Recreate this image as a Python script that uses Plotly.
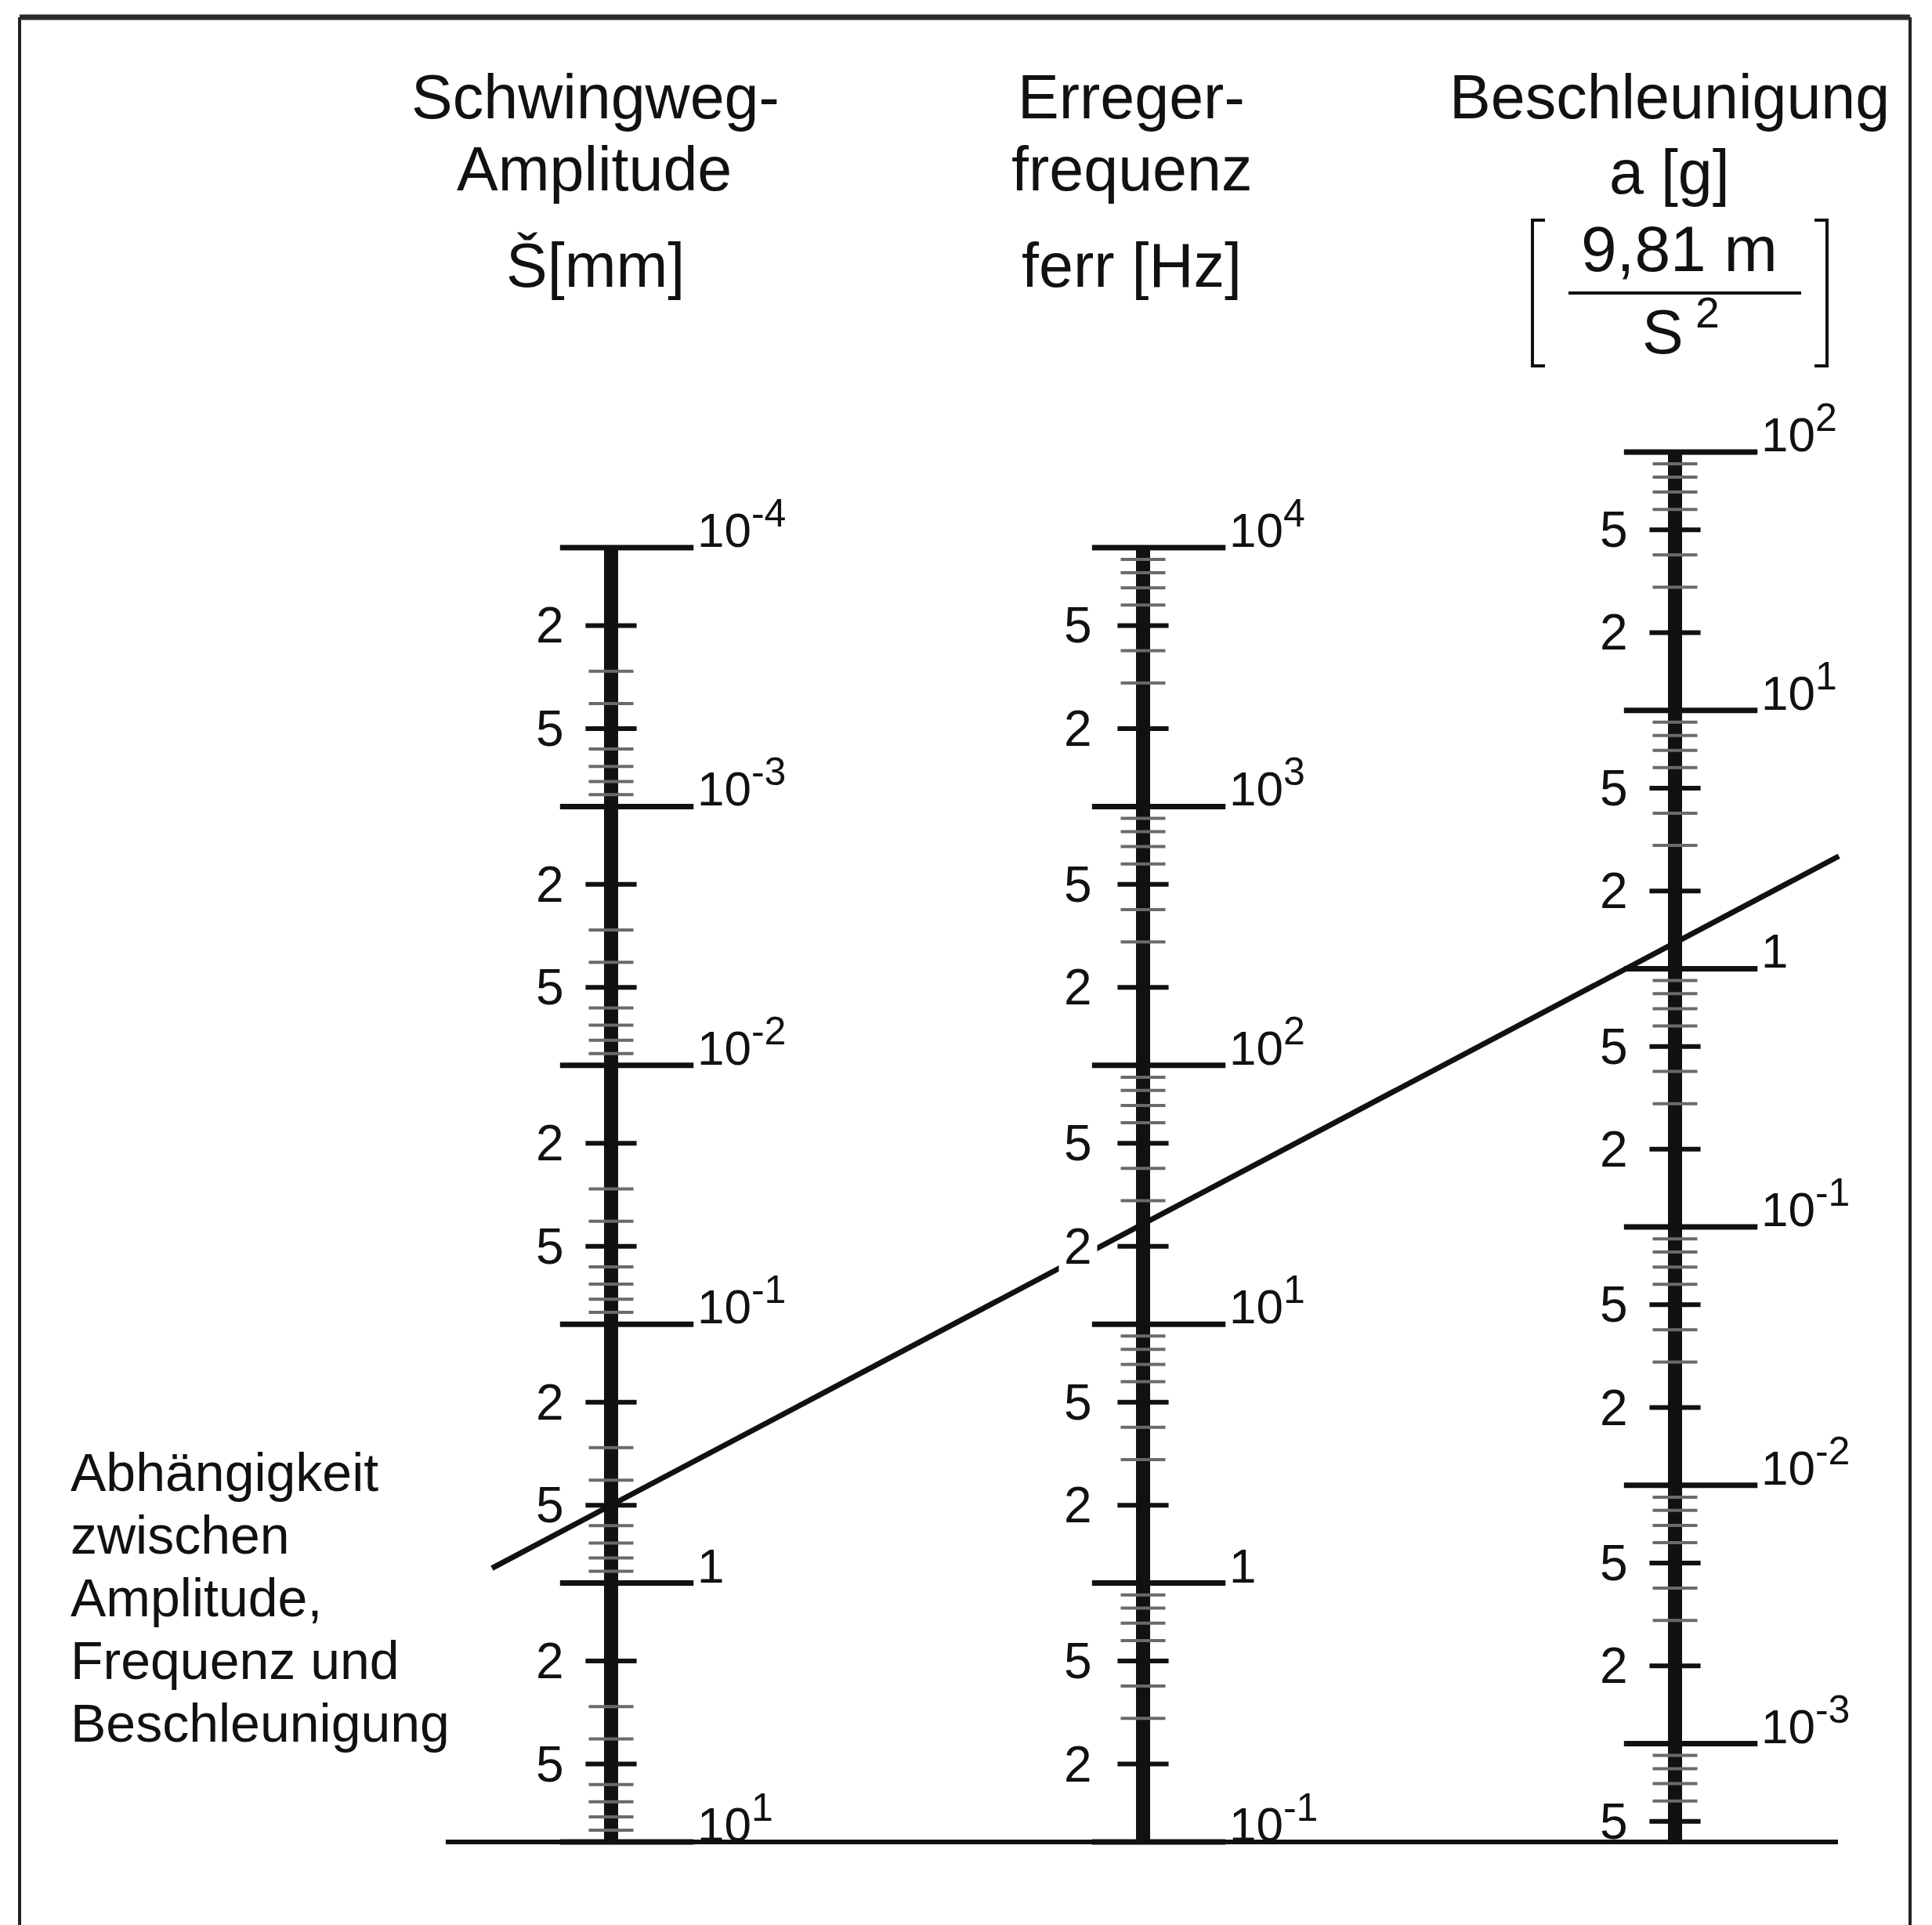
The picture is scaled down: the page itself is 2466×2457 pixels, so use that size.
import math
import plotly.graph_objects as go

W, H = 2466, 2457
FONT = "Liberation Sans, Arial, Helvetica, sans-serif"
INK = "#111111"


def power(exp):
    return f"10<sup><span style='font-size:50px'>{exp}</span></sup>"


# ---- scale data -------------------------------------------------------
# Schwingweg-Amplitude Š [mm]  (grows downwards)
amp_decades = [1e-4, 1e-3, 1e-2, 1e-1, 1, 10]
amp_labels = [power("-4"), power("-3"), power("-2"), power("-1"), "1", power("1")]
# Erregerfrequenz ferr [Hz]
freq_decades = [1e4, 1e3, 1e2, 1e1, 1, 1e-1]
freq_labels = [power("4"), power("3"), power("2"), power("1"), "1", power("-1")]
# Beschleunigung a [g]
acc_decades = [1e2, 1e1, 1, 1e-1, 1e-2, 1e-3]
acc_labels = [power("2"), power("1"), "1", power("-1"), power("-2"), power("-3")]

labelled_steps = [2, 5]
minor_steps = [3, 4, 6, 7, 8, 9]

# worked example drawn across the nomogram
example_amp = 0.5    # mm
example_acc = 1.26   # g

# ---- axis geometry (log10 at bottom edge, log10 at top edge) ---------
AMP_RANGE = [1.3208, -6.1156]
FREQ_RANGE = [-1.3208, 6.1156]
ACC_RANGE = [-3.7021, 3.7501]
X_RANGE = [-1.14875, 2.48306]   # scale columns sit at x = 0, 1, 2


def map_value(v, src, dst):
    """Value on axis dst that sits at the same height as v on axis src."""
    frac = (math.log10(v) - src[0]) / (src[1] - src[0])
    return 10 ** (dst[0] + frac * (dst[1] - dst[0]))


baseline_amp = amp_decades[-1]
acc_bottom = map_value(baseline_amp, AMP_RANGE, ACC_RANGE)

scales = [
    dict(col=0, ax="y", rng=AMP_RANGE, dec=amp_decades, lab=amp_labels,
         lo=min(amp_decades), hi=max(amp_decades), bg=None),
    dict(col=1, ax="y2", rng=FREQ_RANGE, dec=freq_decades, lab=freq_labels,
         lo=min(freq_decades), hi=max(freq_decades), bg="white"),
    dict(col=2, ax="y3", rng=ACC_RANGE, dec=acc_decades, lab=acc_labels,
         lo=acc_bottom, hi=max(acc_decades), bg=None),
]

fig = go.Figure()
annotations = []


def segs(col, vals, left, right):
    xs, ys = [], []
    for v in vals:
        xs += [col + left, col + right, None]
        ys += [v, v, None]
    return xs, ys


for s in scales:
    col, ax = s["col"], s["ax"]
    lo, hi = s["lo"], s["hi"]
    yref = ax
    # spine
    fig.add_trace(go.Scatter(x=[col, col], y=[lo, hi], yaxis=ax, mode="lines",
                             line=dict(color=INK, width=18), hoverinfo="skip"))
    # subdivisions of every decade
    lab_vals, minor_vals = [], []
    for k in range(math.floor(math.log10(lo)) - 1, math.ceil(math.log10(hi)) + 1):
        base = 10.0 ** k
        for m in labelled_steps:
            v = base * m
            if lo * 1.0001 < v < hi / 1.0001:
                lab_vals.append((v, str(m)))
        for m in minor_steps:
            v = base * m
            if lo * 1.0001 < v < hi / 1.0001:
                minor_vals.append(v)
    xs, ys = segs(col, minor_vals, -0.042, 0.042)
    fig.add_trace(go.Scatter(x=xs, y=ys, yaxis=ax, mode="lines",
                             line=dict(color="#6a6a6a", width=4), hoverinfo="skip"))
    xs, ys = segs(col, [v for v, _ in lab_vals], -0.048, 0.048)
    fig.add_trace(go.Scatter(x=xs, y=ys, yaxis=ax, mode="lines",
                             line=dict(color=INK, width=6), hoverinfo="skip"))
    for v, t in lab_vals:
        a = dict(x=col - 0.0854, y=math.log10(v), xref="x", yref=yref,
                 text=t, showarrow=False, xanchor="right", yanchor="middle",
                 font=dict(family=FONT, size=64, color=INK))
        if s["bg"]:
            a.update(bgcolor=s["bg"], borderpad=6)
        annotations.append(a)
    # decade marks
    xs, ys = segs(col, s["dec"], -0.096, 0.155)
    fig.add_trace(go.Scatter(x=xs, y=ys, yaxis=ax, mode="lines",
                             line=dict(color=INK, width=7), hoverinfo="skip"))
    for v, t in zip(s["dec"], s["lab"]):
        annotations.append(dict(x=col + 0.159, y=math.log10(v), xref="x", yref=yref,
                                text=t, showarrow=False, xanchor="left",
                                yanchor="bottom", yshift=-14,
                                font=dict(family=FONT, size=62, color=INK)))

# common baseline under the three scales
fig.add_trace(go.Scatter(x=[-0.3108, 2.3063], y=[baseline_amp, baseline_amp],
                         yaxis="y", mode="lines",
                         line=dict(color=INK, width=6), hoverinfo="skip"))

# example reading line: through Š on the left scale and a on the right scale
ly = math.log10(map_value(example_amp, AMP_RANGE, FREQ_RANGE))
ry = math.log10(map_value(example_acc, ACC_RANGE, FREQ_RANGE))
x_ends = [-0.224, 2.308]
line_y = [10 ** (ly + (ry - ly) * x / 2.0) for x in x_ends]
fig.add_trace(go.Scatter(x=x_ends, y=line_y, yaxis="y2", mode="lines",
                         line=dict(color=INK, width=7), hoverinfo="skip"))


def px(xp):
    return xp / W


def py(yp):
    return 1 - yp / H


def title(text, xp, yp, size=79, anchor="center"):
    annotations.append(dict(x=px(xp), y=py(yp), xref="paper", yref="paper",
                            text=text, showarrow=False, xanchor=anchor,
                            yanchor="middle",
                            font=dict(family=FONT, size=size, color=INK)))


# column headings
title("Schwingweg-", 760, 123)
title("Amplitude", 758, 215)
title("Š[mm]", 760, 338)
title("Erreger-", 1444, 123)
title("frequenz", 1444, 215)
title("ferr [Hz]", 1444, 338)
title("Beschleunigung", 2131, 123)
title("a [g]", 2131, 220)
title("9,81 m", 2143, 318, size=82)
title("S<sup> 2</sup>", 2145, 418)

# caption
for i, t in enumerate(["Abhängigkeit", "zwischen", "Amplitude,",
                       "Frequenz und", "Beschleunigung"]):
    title(t, 88, 1879 + i * 80, size=68, anchor="left")

line_style = dict(color=INK, width=4)
shapes = [
    # fraction bar and square brackets of the unit
    dict(type="line", xref="paper", yref="paper", x0=px(2002), x1=px(2299),
         y0=py(374), y1=py(374), line=dict(color=INK, width=4)),
    dict(type="path", xref="paper", yref="paper",
         path=f"M {px(1972)} {py(281)} L {px(1956)} {py(281)} L {px(1956)} {py(467)} L {px(1972)} {py(467)}",
         line=line_style),
    dict(type="path", xref="paper", yref="paper",
         path=f"M {px(2316)} {py(281)} L {px(2332)} {py(281)} L {px(2332)} {py(467)} L {px(2316)} {py(467)}",
         line=line_style),
    # frame
    dict(type="line", xref="paper", yref="paper", x0=px(25), x1=px(25),
         y0=py(22), y1=0, line=dict(color="#222222", width=4)),
    dict(type="line", xref="paper", yref="paper", x0=px(2438), x1=px(2438),
         y0=py(22), y1=0, line=dict(color="#222222", width=4)),
    dict(type="line", xref="paper", yref="paper", x0=px(25), x1=px(2438),
         y0=py(22), y1=py(22), line=dict(color="#2a2a2a", width=7)),
]

fig.update_layout(
    width=W, height=H,
    margin=dict(l=0, r=0, t=0, b=0),
    paper_bgcolor="white", plot_bgcolor="white",
    showlegend=False,
    xaxis=dict(range=X_RANGE, visible=False, fixedrange=True, domain=[0, 1]),
    yaxis=dict(type="log", range=AMP_RANGE, visible=False, fixedrange=True),
    yaxis2=dict(type="log", range=FREQ_RANGE, visible=False, fixedrange=True,
                overlaying="y"),
    yaxis3=dict(type="log", range=ACC_RANGE, visible=False, fixedrange=True,
                overlaying="y"),
    annotations=annotations,
    shapes=shapes,
)

fig.write_html("out.html")
